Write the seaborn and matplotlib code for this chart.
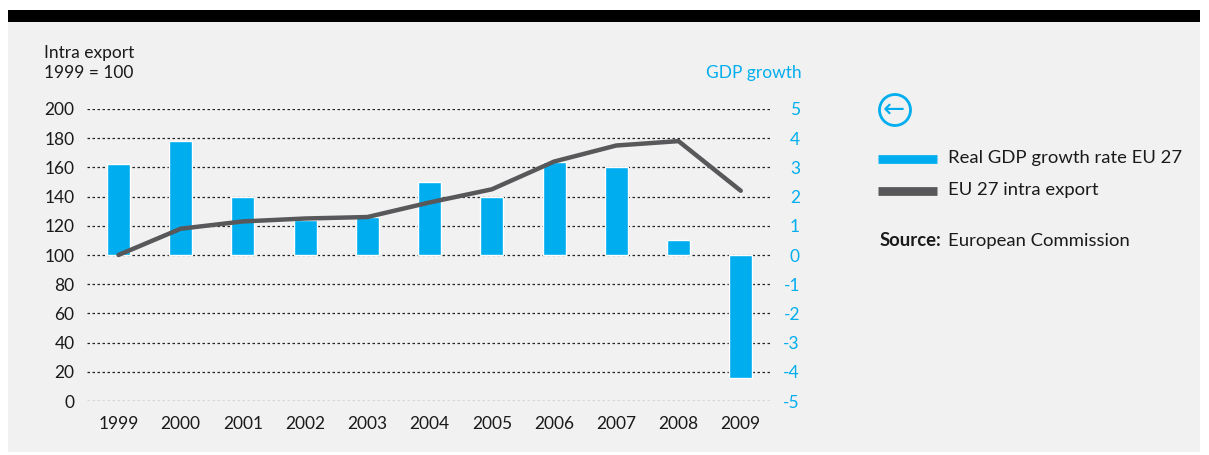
import numpy as np
import pandas as pd
import matplotlib
matplotlib.use("Agg")
import matplotlib.pyplot as plt
from matplotlib.patches import Rectangle, Ellipse
from matplotlib.lines import Line2D
import seaborn as sns

sns.set_theme(style="white")
plt.rcParams['font.family'] = ['Lato', 'DejaVu Sans']

# data
years = ['1999', '2000', '2001', '2002', '2003', '2004', '2005', '2006', '2007', '2008', '2009']
gdp_growth = [3.1, 3.9, 2.0, 1.2, 1.3, 2.5, 2.0, 3.2, 3.0, 0.5, -4.2]
intra_export = [100, 118, 123, 125, 126, 136, 145, 164, 175, 178, 144]
left_ticks = list(range(0, 201, 20))
right_ticks = list(range(-5, 6))

BLUE = '#00aeef'
GREY = '#58585a'
PANEL = '#f1f1f1'
TXT = '#1a1a1a'

df = pd.DataFrame({'year': years, 'gdp': gdp_growth, 'export': intra_export})
df['pos'] = np.arange(len(df))

W, H = 1209, 455
fig = plt.figure(figsize=(W / 100, H / 100), dpi=100)
fig.patch.set_facecolor('white')

def fx(px):
    return px / W

def fy(py):
    return 1 - py / H

# background panel and black top bar
fig.patches.append(Rectangle((fx(8), fy(452)), fx(1192), (452 - 22) / H,
                             transform=fig.transFigure, facecolor=PANEL, edgecolor='none', zorder=-5))
fig.patches.append(Rectangle((fx(8), fy(22)), fx(1192), 12 / H,
                             transform=fig.transFigure, facecolor='black', edgecolor='none', zorder=-5))

ax = fig.add_axes([fx(87), fy(401), fx(770 - 87), (401 - 109) / H])
ax2 = ax.twinx()

# bars (GDP growth, right axis)
sns.barplot(data=df, x='year', y='gdp', ax=ax2, color=BLUE, saturation=1,
            width=0.37, errorbar=None, zorder=3)
ax2.set_ylim(-5, 5)
ax2.set_yticks(right_ticks)
ax2.set_yticklabels([str(t) for t in right_ticks])
ax2.grid(axis='y', linestyle=(0, (2, 2)), color='#222222', linewidth=0.9)
ax2.grid(axis='x', visible=False)
ax2.set_axisbelow(True)
ax2.tick_params(axis='y', length=0, pad=21.6, labelsize=12.5, colors=BLUE)
for lab in ax2.get_yticklabels():
    lab.set_ha('right')
ax2.set_ylabel('')

# line (intra export, left axis)
sns.lineplot(data=df, x='pos', y='export', ax=ax, color=GREY, linewidth=3.2,
             solid_joinstyle='miter', zorder=5)
ax.set_ylim(0, 200)
ax.set_yticks(left_ticks)
ax.tick_params(axis='y', length=0, pad=9, labelsize=12.5, colors=TXT)
ax.set_xlim(-0.506, 10.47)
ax.set_xticks(df['pos'], years)
ax.tick_params(axis='x', length=0, pad=10.5, labelsize=12.5, colors=TXT)
ax.set_xlabel('')
ax.set_ylabel('')
ax.grid(False)
ax.set_zorder(ax2.get_zorder() + 1)
ax.patch.set_visible(False)

for a in (ax, ax2):
    for s in a.spines.values():
        s.set_visible(False)

# axis titles
fig.text(fx(44), fy(53), 'Intra export', fontsize=12.5, color=TXT, ha='left', va='center')
fig.text(fx(44), fy(73), '1999 = 100', fontsize=12.5, color=TXT, ha='left', va='center')
fig.text(fx(802), fy(73), 'GDP growth', fontsize=12.5, color=BLUE, ha='right', va='center')

# back-arrow icon
fig.patches.append(Ellipse((fx(895), fy(110)), 31 / W, 31 / H, transform=fig.transFigure,
                           facecolor='none', edgecolor=BLUE, linewidth=2))
fig.text(fx(894), fy(111), '\u2190', fontsize=19, color=BLUE, ha='center', va='center',
         family=['DejaVu Sans'])

# legend
fig.add_artist(Line2D([fx(878), fx(937)], [fy(159), fy(159)], transform=fig.transFigure,
                      color=BLUE, linewidth=6.3, solid_capstyle='butt'))
fig.add_artist(Line2D([fx(878), fx(937)], [fy(191), fy(191)], transform=fig.transFigure,
                      color=GREY, linewidth=6.3, solid_capstyle='butt'))
fig.text(fx(948), fy(158), 'Real GDP growth rate EU 27', fontsize=13.3, color=TXT,
         ha='left', va='center')
fig.text(fx(948), fy(190), 'EU 27 intra export', fontsize=13.3, color=TXT,
         ha='left', va='center')
src = fig.text(fx(880), fy(241), 'Source:', fontsize=13.3, color=TXT, fontweight='bold',
               ha='left', va='center')
renderer = fig.canvas.get_renderer()
bb = src.get_window_extent(renderer)
fig.text(fx(bb.x1 + 6), fy(241), 'European Commission', fontsize=13.3, color=TXT,
         ha='left', va='center')

fig.savefig('out.png', dpi=100, facecolor='white')
